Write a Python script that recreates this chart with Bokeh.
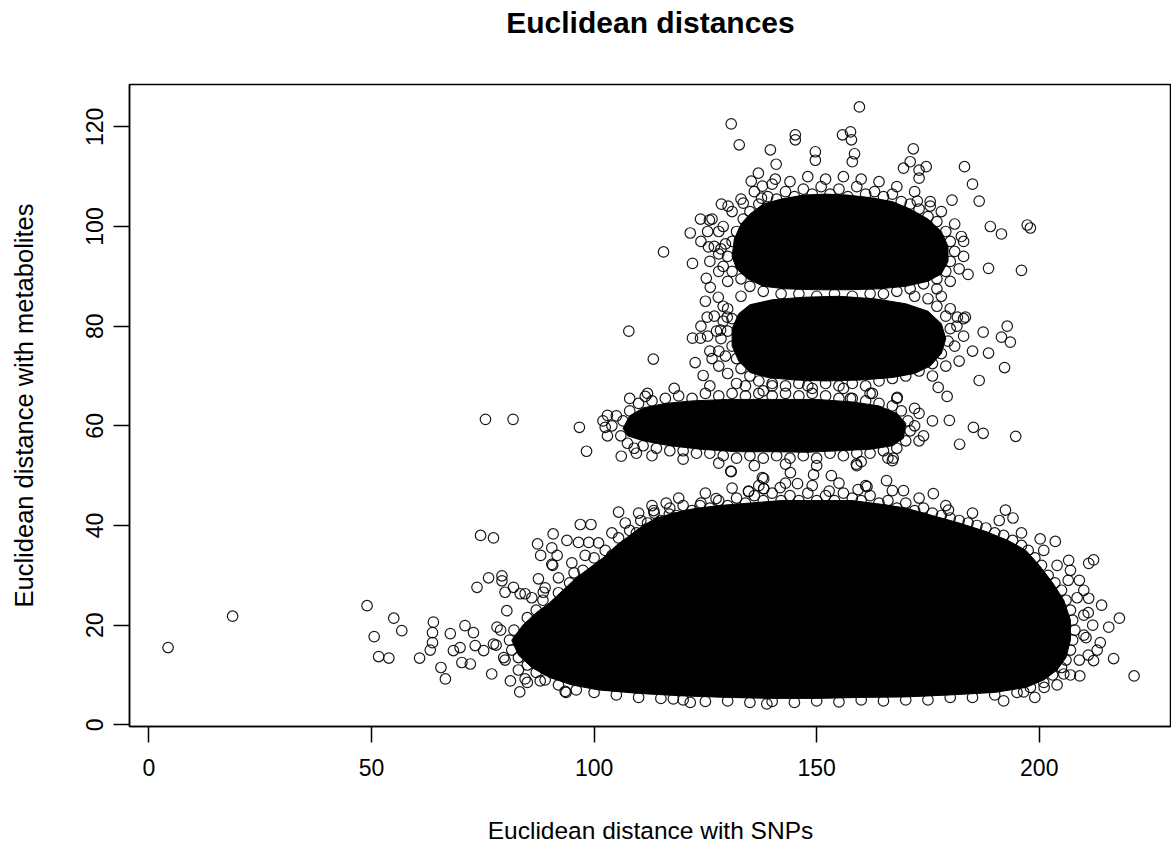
from bokeh.plotting import figure
from bokeh.models import Range1d, FixedTicker, LinearAxis
from bokeh.embed import file_html
from bokeh.resources import INLINE

# ---------------- data ----------------
x_ticks = [0, 50, 100, 150, 200]
y_ticks = [0, 20, 40, 60, 80, 100, 120]
title_text = "Euclidean distances"

# saturated (fully overplotted) cores of the four point clouds
core_low_x = [81.5, 84, 87, 90, 93, 96, 99, 102, 105, 108, 111, 114, 118, 122, 128, 135, 142, 150, 158, 165, 170, 176,
              182, 188, 193, 197, 200, 203, 205.5, 207, 207, 206, 204, 201, 197, 190, 180, 170, 160, 150, 140, 130,
              120, 110, 101, 95, 90, 86, 83]
core_low_y = [17, 20, 22.5, 24.5, 27, 29.5, 31.5, 33.5, 36, 38, 40, 41.5, 42.5, 43.3, 44, 44.5, 45, 45, 45, 44.2, 43.5, 42,
              40.5, 38.8, 37, 35, 32, 28.5, 25, 21, 17, 13.5, 11, 9, 7.5, 6.5, 6, 5.6, 5.5, 5.3, 5.3, 5.5,
              5.8, 6.3, 7, 8, 9.5, 11.5, 14]
core_60_x = [106.5, 108, 111, 116, 122, 130, 140, 150, 158, 164, 168, 170, 169.5, 167, 162, 155, 148, 140, 132, 124, 117, 111, 107.5]
core_60_y = [59.5, 62, 63.6, 64.5, 65, 65.3, 65.3, 65.3, 64.8, 64, 62.5, 60.5, 57.5, 56, 55.3, 55, 54.7, 54.8, 54.8, 55.3, 56, 57, 58]
core_77_x = [131, 131, 132.5, 135, 140, 147, 155, 163, 170, 175, 178, 179, 178, 175.5, 172, 167, 160, 152, 145, 139, 135, 132.5]
core_77_y = [76, 79.5, 82.5, 84.3, 85.3, 85.8, 86, 85.5, 84.5, 83, 80.5, 77.5, 74.5, 72, 70.5, 69.7, 69.2, 69, 69.2, 69.7, 70.7, 73]
core_95_x = [131, 131.5, 133, 135, 138, 142, 147, 152, 157, 162, 167, 171, 175, 178, 179.5, 179.5, 178, 175, 170, 164, 157,
             150, 143, 138, 134.5, 132]
core_95_y = [94, 97.5, 100.5, 102.5, 104.5, 105.5, 106.3, 106.5, 106.3, 105.8, 105, 103.5, 101.5, 99, 96, 93, 90.5, 89, 88,
             87.5, 87.3, 87.3, 87.5, 88, 89.5, 91.5]

# individual points on the edge of the lowest cloud
low_x = [85, 87, 88.5, 89, 92, 93, 94.5, 95.5, 97.5, 99, 100, 101.5, 102.5, 104, 105.5, 107, 108, 109.5, 110.5, 112,
         113.5, 115, 117, 118.5, 120, 122, 124, 126, 128, 130, 132, 134, 136, 138, 140, 142, 144, 146, 148, 150,
         152, 154, 156, 158, 160, 162, 164, 166, 168, 170, 172, 174, 176, 178, 180, 182, 184, 186, 188, 190,
         192, 194, 196, 197.5, 199, 200.5, 202, 203.5, 205, 206, 207, 207.5, 208, 207.5, 207, 206, 205, 203, 201,
         198, 195, 190, 185, 180, 175, 170, 165, 160, 155, 150, 145, 140, 135, 130, 125, 120, 115, 110, 105, 100,
         96, 92, 89, 87, 85, 83, 81.5, 81, 82,
         209, 210, 211, 212, 210, 213, 211, 214,
         86, 89, 92, 95, 98, 101, 104, 107, 110, 113, 119, 125, 131, 137, 143, 149, 155, 161, 167, 173, 179, 185,
         191, 196, 201, 204, 206.5, 208.5, 210, 210.5, 209, 207, 204, 199, 192, 78, 79, 80, 83, 85]
low_y = [21.5, 23, 25, 22, 26.5, 24.5, 28.5, 30.5, 31, 29.5, 33.5, 31.5, 35, 34, 37.5, 36, 39, 38.5, 41, 40.5,
         42.5, 41, 43.5, 42, 44, 43, 44.5, 43.5, 45, 44, 45.5, 44.5, 46, 45, 46.5, 45, 46, 45, 46.5, 45,
         46, 45, 46.5, 45.5, 45, 46, 44.5, 45, 43.5, 44.5, 43, 43.5, 42.5, 42, 41.5, 41, 40.5, 40, 39.5, 38.5,
         38, 37, 36, 35, 33.5, 32, 30, 28.5, 27, 25, 23, 21, 19, 17, 15, 13, 11.5, 10, 8.5,
         7.5, 6.5, 6, 5.5, 5.5, 5, 5, 4.8, 5, 4.6, 4.8, 4.5, 4.7, 4.5, 4.8, 4.7, 5, 5.3, 5.5, 6, 6.5,
         7, 8, 9, 10.5, 12, 13.5, 15, 17, 19,
         29, 27, 22.5, 20, 18, 15, 14, 24,
         25.5, 27.5, 29.5, 32.5, 34, 36.5, 38.5, 40.5, 42.5, 44, 45.5, 46.5, 47.5, 48, 48.5, 48, 48.5, 48, 47, 45.5, 44, 42.5,
         41, 38.5, 35, 32, 29, 25.5, 22, 17.5, 13, 10, 8, 5.5, 4.8, 16, 19, 13, 11, 8.5]

# points on the edge of the band near 60
band60_x = [106, 106.5, 108, 107.5, 110, 113, 116, 119, 122, 125, 128, 131, 134, 137, 140, 143, 146, 149, 152, 155,
            158, 161, 164, 167, 169, 170.5, 171, 170, 168, 165, 162, 159, 156, 153, 150, 147, 144, 141, 138, 135,
            132, 129, 126, 123, 120, 117, 114, 111, 172, 174, 176, 173, 104, 105,
            103, 102, 108, 112, 118, 126, 132, 140, 148, 156, 162, 168, 172, 173, 166, 160, 150, 143, 136, 128, 120,
            113, 109]
band60_y = [58, 61, 63, 56.5, 64.5, 65, 65.5, 66, 65.5, 66.5, 66, 66.5, 66, 66.5, 66, 66.5, 66, 66.5, 66, 65.5,
            65.5, 65, 64.5, 64, 63, 61, 59, 57, 55.5, 55, 54.5, 54.5, 54, 54.5, 53.5, 54, 53.5, 54, 53.5, 54,
            53.5, 54, 54.5, 54.5, 55, 55, 55.5, 56, 60, 58, 61, 62.5, 60, 62,
            58, 61, 65.5, 66.5, 67.5, 68, 68.5, 68, 68, 67.5, 66.5, 65.5, 63.5, 57, 53.5, 52.8, 52, 52.3, 52, 52.5, 53.3,
            54, 55.5]

# points on the edge of the cloud near 77
band77_x = [131, 130, 131, 132, 133, 135, 137, 140, 143, 146, 149, 152, 155, 158, 161, 164, 167, 170, 173, 176,
            178, 179.5, 180, 179, 177, 175, 181, 183, 182, 185, 129, 127.5, 128, 126, 124, 125,
            128.5, 129, 130, 133, 181.5, 180, 178, 183, 130, 134, 138, 176, 179, 127,
            126.5, 128, 129.5, 125.5]
band77_y = [76, 79, 81.5, 73.5, 71.5, 70, 69, 68.5, 68, 68.5, 67.5, 68.5, 68, 68.5, 68, 69, 69.5, 70, 71, 72.5,
            74.5, 77, 79.5, 82, 84, 85.5, 76, 78, 73, 75, 84, 79, 72, 75, 80, 85,
            77.5, 81, 83.5, 86, 80, 83.5, 86, 81.5, 70.5, 68, 67, 70, 72, 82,
            73.5, 75, 74, 78]

# points on the edge of the cloud near 95
band95_x = [131, 130, 131, 132, 133.5, 135, 137, 139, 141, 143, 145, 147, 149, 151, 153, 155, 157, 159, 161, 163,
            165, 167, 169, 171, 173, 175, 177, 179, 180, 181, 180, 179, 177, 174, 171, 168, 165, 162, 158, 154,
            150, 146, 142, 138, 135, 133, 127, 128, 126, 129, 124,
            128.5, 129, 131, 133, 136, 140, 144, 148, 152, 156, 160, 164, 168, 172, 175.5, 178, 181, 182.5, 183, 182,
            180, 177, 130, 128, 172, 183,
            126.5, 128, 129.5, 125.5]
band95_y = [97, 94, 91, 99, 101.5, 103, 104.5, 106, 105.5, 107, 106, 107.5, 106.5, 108, 106.5, 107.5, 106, 108, 106.5, 107,
            106, 106.5, 105, 104.5, 103.5, 102, 101, 99, 97, 95, 93, 91, 89.5, 88.5, 87.5, 87, 86.5, 86.5, 86, 86.5,
            86, 86.5, 86.5, 87, 88, 89.5, 96, 99, 93, 92, 97,
            95.5, 100, 103, 105.5, 107, 108.5, 109, 110, 109.5, 110, 109.5, 109, 108, 107, 105, 103, 100.5, 98, 94, 91.5,
            89, 87.5, 89, 91, 86, 97,
            101.5, 94.5, 96.5, 99]

# scattered points away from the clouds
scatter_x = [159.6, 130.8, 132.6, 145.2, 145.2, 155.8, 157.6, 157.8, 158.5, 158, 139.6, 149.7, 149.7, 171.7, 171, 169.5,
             173, 174.6, 173, 183.2, 185, 186.5, 197.3, 198, 196, 191.5, 189, 184, 188.6, 180.4, 172.6, 175.5,
             136.9, 135.3, 137.8, 140.9, 140.7, 137.6, 133.5, 128.6, 130.1, 123.9, 125.9, 121.6, 115.6, 122.1,
             125.7, 125.2, 126.1, 127.9, 125.4, 129.9, 107.8, 122.1, 123.9, 128.4, 187.4, 192.8, 191.5, 193.5,
             181.6, 183.4, 113.3, 122.7, 124.5, 188.6, 192.2, 186.5, 177.3, 179.3, 168.1,
             96.7, 98.3, 103, 102.5, 106.1, 109.5, 111.5, 130.8, 137.8, 138.1, 134.7, 141.8, 144.1, 145.7, 149.3,
             153.3, 158.9, 165.7, 169.5, 176.2, 185.2, 187.4, 194.7, 179.8, 182.1, 167.2, 162.5, 157.6, 75.6, 81.8,
             4.3, 18.8, 49, 50.6, 51.6, 53.9, 55, 56.8, 60.8, 63.2, 63.7, 63.7, 63.9, 65.6, 66.6, 67.7, 68.4, 69.9,
             70.3, 71, 72.9, 73.3, 73.7, 76.3, 79.3, 79.3, 72.2, 75.2, 77, 80, 81.9, 83.3, 84.5, 81.2, 79.7, 78.2,
             80.4, 77.4, 84.5, 87.9, 93.5, 87.5, 90.7, 88.6, 74.5, 77.4, 87.3, 88, 90.8, 90.5, 91.7, 90.5, 93.9,
             96.9, 99.3, 96.5, 98.8, 105.5, 116.2, 83.4, 123.8, 127.4, 134.7, 138.1, 138.1, 130.7, 113.4, 116.9,
             93.7, 117.8, 121.6, 138.8, 159, 167, 161.3, 159.3, 152.8, 179.6, 192.4, 194.1, 200.2, 203.6, 206.6,
             211.1, 212.2, 218, 216.7, 221.3, 209.1, 201.1, 196.5, 211.1, 215.6, 213.7, 212.2, 207, 205.5]
scatter_y = [124, 120.6, 116.4, 118.4, 117.4, 118.4, 119, 117.4, 114.6, 113, 115.4, 115, 113.3, 115.6, 113, 111.7,
             111.3, 112, 109.7, 112, 108.5, 105.1, 100.3, 99.7, 91.2, 98.5, 100, 90.4, 91.6, 105.3, 105.1, 104.1,
             110.7, 109.1, 108.1, 112.5, 109.5, 105.7, 104.7, 104.5, 104.1, 101.5, 101.3, 98.7, 94.9, 92.6,
             95.9, 89.6, 87.8, 85.8, 81.8, 81.8, 79, 77.6, 77.6, 79.2, 78.8, 80, 77.8, 76.8,
             81.8, 81.8, 73.4, 72.7, 70.1, 74.6, 71.7, 69.1, 67.7, 65.9, 65.7,
             59.7, 54.9, 62.1, 59.7, 53.9, 54.5, 65.9, 50.8, 49.6, 47.4, 46.8, 47.6, 50.6, 48.4, 50.2,
             50, 52.3, 49, 47, 46.4, 59.7, 58.5, 57.9, 61.1, 56.3, 53.5, 66.5, 65.5, 61.3, 61.3,
             15.5, 21.8, 23.9, 17.7, 13.7, 13.4, 21.4, 18.9, 13.4, 15, 16.5, 18.5, 20.6, 11.5, 9.2, 18.3, 14.9, 15.5,
             12.5, 19.9, 18.5, 15.9, 27.6, 29.5, 29.9, 28.9, 12.2, 14.9, 10.2, 26.6, 27.6, 6.6, 26.3, 8.8, 13.5, 19.6,
             22.9, 16.2, 9.2, 8.8, 6.7, 29.3, 32, 26.6, 38, 37.5, 36.3, 34, 38.3, 35.5, 34, 32.2, 37,
             40.2, 40.2, 36.6, 36.6, 42.7, 44.5, 26.3, 44, 45.4, 46.9, 49.4, 47.4, 50.9, 43, 42.3,
             6.5, 5.2, 4.5, 4.2, 52, 53, 47.8, 47.2, 46.9, 43.1, 43.1, 41.5, 37.3, 36.8, 33,
             32.4, 33.1, 21.4, 13.3, 9.8, 9.8, 7.5, 6.6, 25.4, 19.6, 16.5, 12.9, 31, 10.2]

# ---------------- figure ----------------
p = figure(width=1171, height=849, output_backend="svg", toolbar_location=None, title=None,
           x_range=Range1d(-4.36, 229.7), y_range=Range1d(-0.34, 128.5),
           min_border_left=129, min_border_right=0, min_border_top=84, min_border_bottom=123,
           background_fill_color="white", border_fill_color="white")

xa = p.below[0]
ya = p.left[0]

p.patches([core_low_x, core_60_x, core_77_x, core_95_x],
          [core_low_y, core_60_y, core_77_y, core_95_y],
          fill_color="black", line_color="black", line_width=1)

all_x = low_x + band60_x + band77_x + band95_x + scatter_x
all_y = low_y + band60_y + band77_y + band95_y + scatter_y
p.scatter(all_x, all_y, marker="circle", size=10.5, fill_color=None,
          line_color="black", line_width=1.2, line_alpha=0.9)

# title: carried by a tick-less axis above the frame
title_axis = LinearAxis(ticker=FixedTicker(ticks=[]), axis_label=title_text,
                        axis_line_color=None, major_tick_line_color=None, minor_tick_line_color=None,
                        major_tick_out=0, major_tick_in=0, major_label_standoff=0,
                        major_label_text_font_size="0px",
                        axis_label_text_font="Liberation Sans", axis_label_text_font_size="30px",
                        axis_label_text_font_style="bold", axis_label_text_color="black",
                        axis_label_standoff=46)
p.add_layout(title_axis, "above")

p.xgrid.visible = False
p.ygrid.visible = False
p.outline_line_color = "black"
p.outline_line_width = 1.5

for ax in (xa, ya):
    ax.axis_line_color = "black"
    ax.axis_line_width = 1.5
    ax.major_tick_line_color = "black"
    ax.major_tick_line_width = 1.5
    ax.major_tick_out = 16
    ax.major_tick_in = 0
    ax.minor_tick_line_color = None
    ax.major_label_text_font = "Liberation Sans"
    ax.major_label_text_font_size = "23px"
    ax.major_label_text_color = "black"
    ax.axis_label_text_font = "Liberation Sans"
    ax.axis_label_text_font_style = "normal"
    ax.axis_label_text_color = "black"

xa.ticker = FixedTicker(ticks=x_ticks)
ya.ticker = FixedTicker(ticks=y_ticks)
xa.axis_label = "Euclidean distance with SNPs"
ya.axis_label = "Euclidean distance with metabolites"
xa.axis_label_text_font_size = "24.5px"
ya.axis_label_text_font_size = "25.5px"
xa.major_label_standoff = 16
xa.axis_label_standoff = 38
ya.major_label_orientation = "vertical"
ya.major_label_standoff = 10
ya.axis_label_standoff = 46

open("out.html", "w").write(file_html(p, INLINE))
